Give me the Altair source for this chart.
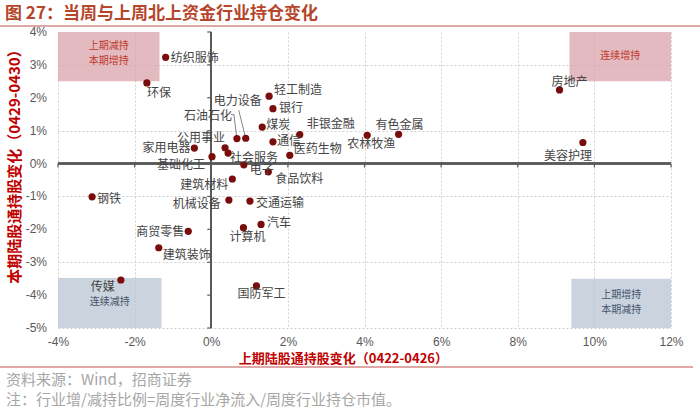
import altair as alt
import pandas as pd

# ---------------- data ----------------
industries = ["纺织服饰", "环保", "钢铁", "家用电器", "基础化工", "公用事业", "社会服务",
              "石油石化", "电力设备", "轻工制造", "银行", "煤炭", "非银金融", "通信",
              "医药生物", "电子", "食品饮料", "建筑材料", "机械设备", "交通运输", "汽车",
              "计算机", "商贸零售", "建筑装饰", "传媒", "国防军工", "农林牧渔", "有色金属",
              "房地产", "美容护理"]
prev_change = [-1.19, -1.68, -3.11, -0.44, 0.02, 0.36, 0.44,
               0.67, 0.90, 1.51, 1.61, 1.33, 2.31, 1.61,
               2.05, 0.85, 1.49, 0.55, 0.46, 1.01, 1.30,
               0.84, -0.60, -1.37, -2.36, 1.18, 4.07, 4.89,
               9.09, 9.70]
curr_change = [3.23, 2.45, -1.01, 0.47, 0.21, 0.48, 0.32,
               0.76, 0.77, 2.05, 1.67, 1.11, 0.88, 0.66,
               0.25, -0.04, -0.25, -0.47, -1.11, -1.14, -1.85,
               -1.95, -2.06, -2.56, -3.54, -3.72, 0.86, 0.89,
               2.24, 0.64]

x_ticks = [-4, -2, 0, 2, 4, 6, 8, 10, 12]
y_ticks = [-5, -4, -3, -2, -1, 0, 1, 2, 3, 4]
y_tick_labels = ["-5%", "-4%", "-3%", "-2%", "-1%", "0%", "1%", "2%", "3%", "4%"]

box_names = ["上期减持\n本期增持", "连续增持", "连续减持", "上期增持\n本期减持"]
box_x0 = [-4, 9.35, -4, 9.4]
box_x1 = [-1.35, 12, -1.3, 12]
box_y0 = [2.5, 2.5, -5, -5]
box_y1 = [4, 4, -3.48, -3.5]
box_kind = ["pink", "pink", "blue", "blue"]

title_text = "图 27：当周与上周北上资金行业持仓变化"
x_title = "上期陆股通持股变化（0422-0426）"
y_title = "本期陆股通持股变化（0429-0430）"
source_text = "资料来源：Wind，招商证券"
note_text = "注：行业增/减持比例=周度行业净流入/周度行业持仓市值。"

# label placement (align, dx, dy) in pixels
label_style = {
    "纺织服饰": ("left", 5, 1), "环保": ("left", 0, 10), "钢铁": ("left", 5, 2),
    "家用电器": ("right", -4, 0), "基础化工": ("right", -7, 8), "公用事业": ("right", 0, -10),
    "社会服务": ("left", 2, 5), "石油石化": ("right", -5, -23), "电力设备": ("center", -8, -37),
    "轻工制造": ("left", 5, -6), "银行": ("left", 6, -1), "煤炭": ("left", 4, -2),
    "非银金融": ("left", 7, -11), "通信": ("left", 4, -1), "医药生物": ("left", 4, -6),
    "电子": ("left", 6, 5), "食品饮料": ("left", 7, 7), "建筑材料": ("right", -4, 6),
    "机械设备": ("right", -8, 4), "交通运输": ("left", 6, 2), "汽车": ("left", 6, -1),
    "计算机": ("center", 4, 9), "商贸零售": ("right", -4, 1), "建筑装饰": ("left", 4, 7),
    "传媒": ("right", -6, 7), "国防军工": ("center", 5, 8), "农林牧渔": ("center", 4, 9),
    "有色金属": ("center", 1, -9), "房地产": ("center", 10, -8), "美容护理": ("center", -15, 13),
}

df = pd.DataFrame({"name": industries, "x": prev_change, "y": curr_change})
boxes = pd.DataFrame({"label": box_names, "x0": box_x0, "x1": box_x1,
                      "y0": box_y0, "y1": box_y1, "kind": box_kind})
boxes["xm"] = (boxes["x0"] + boxes["x1"]) / 2

W, H = 613, 296
CJK = "Noto Sans CJK SC"
AXC = "#595959"

xs = alt.Scale(domain=[-4, 12], nice=False, zero=False)
ys = alt.Scale(domain=[-5, 4], nice=False, zero=False)

x_axis = alt.Axis(values=x_ticks, labelExpr="datum.value + '%'", title=None, domain=False,
                  ticks=False, grid=True, gridColor="#d0d0d0", gridDash=[2, 2],
                  labelOverlap=False, labelFlush=False,
                  labelFont="Liberation Sans", labelFontSize=12, labelColor=AXC, labelPadding=8)
y_axis = alt.Axis(values=y_ticks, labels=False, title=None, domain=False,
                  ticks=False, grid=True, gridColor="#d0d0d0", gridDash=[2, 2])

base = alt.Chart(df)

# shaded boxes
rects = alt.Chart(boxes).mark_rect(opacity=0.75).encode(
    x=alt.X("x0:Q", scale=xs, axis=x_axis),
    x2="x1:Q",
    y=alt.Y("y0:Q", scale=ys, axis=y_axis),
    y2="y1:Q",
    color=alt.Color("kind:N", scale=alt.Scale(domain=["pink", "blue"],
                                              range=["#d9a3a9", "#b8c4d3"]), legend=None),
)

box_dy = [9, 19, 19, 11]
box_color = ["#c0392b", "#c0392b", "#44546a", "#44546a"]
box_layers = []
for i, lab in enumerate(box_names):
    box_layers.append(
        alt.Chart(boxes).transform_filter(alt.datum.label == lab).mark_text(
            font=CJK, fontSize=10, color=box_color[i], baseline="top", align="center",
            lineBreak="\n", lineHeight=15, dy=box_dy[i]
        ).encode(x="xm:Q", y="y1:Q", text="label:N")
    )

# zero axes
xt = pd.DataFrame({"v": x_ticks})
yt = pd.DataFrame({"v": y_ticks, "lab": y_tick_labels})
h_line = alt.Chart(xt).mark_rule(color=AXC, strokeWidth=1.5).encode(
    x=alt.datum(-4), x2=alt.datum(12), y=alt.datum(0))
v_line = alt.Chart(yt).mark_rule(color=AXC, strokeWidth=1.5).encode(
    y=alt.datum(-5), y2=alt.datum(4), x=alt.datum(0))
x_tk = alt.Chart(xt).mark_rule(color=AXC, strokeWidth=1.2, y2Offset=4).encode(
    x="v:Q", y=alt.datum(0), y2=alt.datum(0))
y_tk = alt.Chart(yt).mark_rule(color=AXC, strokeWidth=1.2, x2Offset=-4).encode(
    y="v:Q", x=alt.datum(0), x2=alt.datum(0))
y_lab = alt.Chart(yt).mark_text(
    font="Liberation Sans", fontSize=12, color=AXC, align="right", baseline="middle"
).encode(y="v:Q", x=alt.value(-11), text="lab:N")

# leader lines
lead1 = base.transform_filter(alt.datum.name == "石油石化").mark_rule(
    color="#666666", strokeWidth=0.8, x2Offset=-3, y2Offset=-24).encode(
    x="x:Q", y="y:Q", x2="x:Q", y2="y:Q")
lead1b = base.transform_filter(alt.datum.name == "石油石化").mark_rule(
    color="#666666", strokeWidth=0.8, xOffset=-3, yOffset=-24, x2Offset=-6, y2Offset=-24).encode(
    x="x:Q", y="y:Q", x2="x:Q", y2="y:Q")
lead2 = base.transform_filter(alt.datum.name == "电力设备").mark_rule(
    color="#666666", strokeWidth=0.8, x2Offset=-7, y2Offset=-28).encode(
    x="x:Q", y="y:Q", x2="x:Q", y2="y:Q")

points = base.mark_circle(size=52, color="#7a0c0c", opacity=1).encode(
    x="x:Q", y="y:Q")

label_layers = []
for nm in industries:
    al, dx, dy = label_style[nm]
    label_layers.append(
        base.transform_filter(alt.datum.name == nm).mark_text(
            font=CJK, fontSize=12, color="#444444", align=al, baseline="middle", dx=dx, dy=dy
        ).encode(x="x:Q", y="y:Q", text="name:N")
    )

one = alt.Data(values=[{"a": 1}])
title_mark = alt.Chart(one).mark_text(
    font=CJK, fontSize=17, fontWeight="bold", color="#b5452b", align="left", baseline="middle"
).encode(x=alt.value(-53), y=alt.value(-18), text=alt.value(title_text))
top_line = alt.Chart(one).mark_rule(color="#c0504d", strokeWidth=1.2).encode(
    x=alt.value(-58), x2=alt.value(642), y=alt.value(-6))
xt_mark = alt.Chart(one).mark_text(
    font=CJK, fontSize=13, fontWeight="bold", color="#c00000", align="right", baseline="middle"
).encode(x=alt.value(390), y=alt.value(327), text=alt.value(x_title))
yt_mark = alt.Chart(one).mark_text(
    font=CJK, fontSize=15, fontWeight="bold", color="#c00000", align="center",
    baseline="middle", angle=270
).encode(x=alt.value(-43), y=alt.value(131), text=alt.value(y_title))
bottom_line = alt.Chart(one).mark_rule(color="#c0504d", strokeWidth=1.2).encode(
    x=alt.value(-58), x2=alt.value(635), y=alt.value(335))
src_mark = alt.Chart(one).mark_text(
    font=CJK, fontSize=15, color="#a6a6a6", align="left", baseline="middle"
).encode(x=alt.value(-52), y=alt.value(348), text=alt.value(source_text))
note_mark = alt.Chart(one).mark_text(
    font=CJK, fontSize=15, color="#a6a6a6", align="left", baseline="middle"
).encode(x=alt.value(-52), y=alt.value(368), text=alt.value(note_text))

chart = alt.layer(
    rects, *box_layers, h_line, v_line, x_tk, y_tk, y_lab, lead1, lead1b, lead2, points,
    *label_layers, title_mark, top_line, xt_mark, yt_mark, bottom_line, src_mark, note_mark
).properties(
    width=W, height=H, autosize="none",
    padding={"left": 58, "top": 32, "right": 29, "bottom": 86},
    background="white",
).configure_view(stroke=None).configure_axis(labelOverlap=False)

chart.save("out.html", embed_options={"renderer": "svg", "actions": False})
